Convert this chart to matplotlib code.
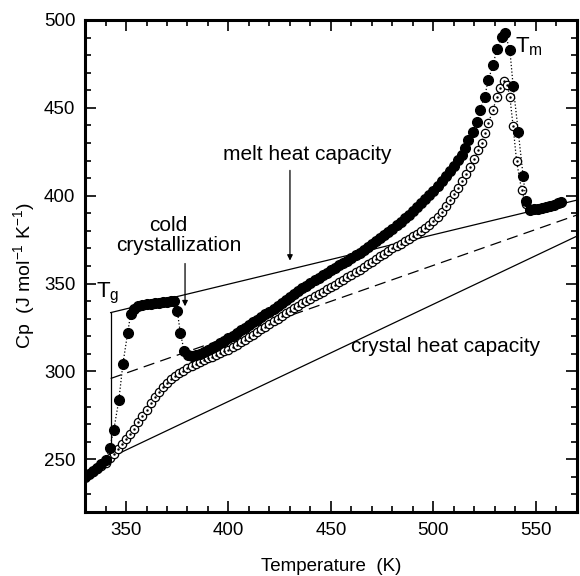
import matplotlib
matplotlib.use("Agg")
import matplotlib.pyplot as plt
from matplotlib.ticker import MultipleLocator

plt.rcParams['font.family'] = ['Liberation Sans', 'DejaVu Sans']
plt.rcParams['mathtext.fontset'] = 'custom'
plt.rcParams['mathtext.rm'] = 'Liberation Sans'
plt.rcParams['mathtext.it'] = 'Liberation Sans'

# first heating (filled circles, with cold crystallization)
T_filled = [330, 332, 334, 336, 338, 340, 342, 344, 346.5, 348.5,
            350.8, 352.3, 354, 356, 358, 360, 362, 364, 366, 368,
            370, 372, 373.6, 375, 376.5, 378.4, 380.2, 382, 384, 386,
            388, 390, 392, 394, 396, 398, 400, 402, 404, 406,
            408, 410, 412, 414, 416, 418, 420, 422, 424, 426,
            428, 430, 432, 434, 436, 438, 440, 442, 444, 446,
            448, 450, 452, 454, 456, 458, 460, 462, 464, 466,
            468, 470, 472, 474, 476, 478, 480, 482, 484, 486,
            488, 490, 492, 494, 496, 498, 500, 502, 504, 506,
            508, 510, 512, 513.8, 515.4, 517, 519.4, 521.1, 522.7, 525.1,
            526.7, 529.2, 530.8, 533.3, 534.9, 537.3, 538.9, 541.4, 543.8, 545.2,
            547, 549, 551, 553, 555, 557, 559, 561, 562.5]
Cp_filled = [240, 241.8, 243.5, 245.3, 247.3, 249.8, 256.5, 266.5, 283.7, 304.4,
             322, 332.8, 335.5, 337, 337.8, 338.2, 338.5, 338.8, 339.1, 339.4,
             339.7, 340, 340, 334.5, 322, 311.5, 309.5, 308.8, 309.2, 310,
             311, 312.2, 313.4, 314.7, 316.1, 317.5, 319, 320.4, 321.9, 323.4,
             325, 326.5, 328, 329.5, 331, 332.5, 334, 335.7, 337.4, 339.1,
             340.8, 342.5, 344.1, 345.7, 347.3, 348.9, 350.5, 351.9, 353.3, 354.7,
             356.1, 357.5, 358.9, 360.3, 361.7, 363.1, 364.5, 366, 367.5, 369,
             370.6, 372.3, 374, 375.8, 377.6, 379.4, 381.3, 383.2, 385.1, 387.1,
             389.1, 391.2, 393.4, 395.7, 398, 400.4, 402.9, 405.5, 408.2, 411,
             414, 417.2, 420.5, 423.3, 427.1, 431.8, 436.5, 442.2, 448.9, 456.4,
             465.9, 474.4, 483.3, 490.5, 492.4, 483, 462.5, 436.5, 411, 397,
             392, 392.3, 392.7, 393.2, 393.8, 394.4, 395, 395.7, 396.3]

# second heating (open circles)
T_open = [330, 332, 334, 336, 338, 340, 342, 344, 346, 348,
          350, 352, 354, 356, 358, 360, 362, 364, 366, 368,
          370, 372, 374, 376, 378, 380, 382, 384, 386, 388,
          390, 392, 394, 396, 398, 400, 402, 404, 406, 408,
          410, 412, 414, 416, 418, 420, 422, 424, 426, 428,
          430, 432, 434, 436, 438, 440, 442, 444, 446, 448,
          450, 452, 454, 456, 458, 460, 462, 464, 466, 468,
          470, 472, 474, 476, 478, 480, 482, 484, 486, 488,
          490, 492, 494, 496, 498, 500, 502, 504, 506, 508,
          510, 512, 514, 516, 518, 520, 522, 523.5, 525.1, 526.7,
          529.2, 530.8, 532.5, 534.3, 536, 537.3, 538.9, 540.6, 543, 545,
          547, 550, 553, 556, 559, 562]
Cp_open = [240.5, 241.5, 243, 244.6, 246.3, 248.2, 250.5, 253.3, 256, 258.5,
           261.3, 264.2, 267.5, 271, 274.5, 278.2, 281.8, 285.2, 288.3, 291.2,
           293.6, 295.7, 297.5, 299.1, 300.5, 301.9, 303.1, 304.2, 305.3, 306.4,
           307.4, 308.4, 309.4, 310.4, 311.4, 312.5, 313.9, 315.3, 316.7, 318.1,
           319.5, 321, 322.5, 324, 325.5, 327, 328.5, 330, 331.5, 333,
           334.5, 335.9, 337.3, 338.7, 340.1, 341.5, 342.8, 344.1, 345.4, 346.7,
           348, 349.4, 350.8, 352.2, 353.6, 355, 356.5, 358, 359.4, 360.9,
           362.4, 364, 365.5, 367, 368.5, 370, 371.4, 372.8, 374.2, 375.6,
           377, 378.4, 379.9, 381.5, 383.2, 385.5, 388, 390.8, 394, 397.5,
           401, 404.6, 408.4, 412.4, 416.6, 421, 426, 430, 435.6, 441.3,
           448.9, 456.4, 461.5, 465, 463, 456.4, 439.4, 419.5, 403.4, 395.5,
           392.5, 392.5, 393.2, 394, 395, 396]

# reference lines (endpoints)
T_glass = [342.5, 342.5]
Cp_glass = [251.5, 333.5]
T_melt = [342.5, 570]
Cp_melt = [333.5, 397.5]
T_mix = [342.5, 570]
Cp_mix = [296.0, 389.0]
T_cryst = [335, 570]
Cp_cryst = [247.0, 377.0]

fig = plt.figure(figsize=(5.8, 5.76), dpi=100)
ax = fig.add_axes([0.1466, 0.111, 0.848, 0.8543])

ax.plot(T_glass, Cp_glass, color='black', lw=0.9, zorder=2)
ax.plot(T_melt, Cp_melt, color='black', lw=0.9, zorder=2)
ax.plot(T_mix, Cp_mix, color='black', lw=0.9, ls=(0, (9, 5)), zorder=2)
ax.plot(T_cryst, Cp_cryst, color='black', lw=0.9, zorder=2)

ax.plot(T_open, Cp_open, ls=':', color='black', lw=0.9, marker='o', ms=6,
        mfc='white', mec='black', mew=0.9, zorder=3)
ax.plot(T_open, Cp_open, ls='none', marker='.', ms=1.5, color='black', zorder=3.5)
ax.plot(T_filled, Cp_filled, ls=':', color='black', lw=0.9, marker='o', ms=7,
        mfc='black', mec='black', zorder=4)

ax.set_xlim(330, 570)
ax.set_ylim(220, 500)
ax.xaxis.set_major_locator(MultipleLocator(50))
ax.xaxis.set_minor_locator(MultipleLocator(10))
ax.yaxis.set_major_locator(MultipleLocator(50))
ax.yaxis.set_minor_locator(MultipleLocator(10))
ax.tick_params(which='both', direction='in', top=True, right=True, labelsize=13.5, width=1.2)
ax.tick_params(which='major', length=8, pad=7)
ax.tick_params(which='minor', length=4)
for s in ax.spines.values():
    s.set_linewidth(2.2)

ax.set_xlabel('Temperature  (K)', fontsize=13.5, labelpad=13.5)
ax.set_ylabel(r'Cp  (J mol$^{\mathrm{-1}}$ K$^{\mathrm{-1}}$)', fontsize=14)
ax.yaxis.set_label_coords(-0.098, 0.481)

ax.text(335.4, 342, r'T$_\mathrm{g}$', fontsize=16, ha='left', va='baseline', zorder=6)
ax.text(539.8, 481.8, r'T$_\mathrm{m}$', fontsize=16, ha='left', va='baseline', zorder=6)
ax.text(370.7, 379.8, 'cold', fontsize=15, ha='center', va='baseline')
ax.text(375.9, 368.6, 'crystallization', fontsize=15, ha='center', va='baseline')
ax.annotate('', xy=(378.8, 335.5), xytext=(378.8, 363),
            arrowprops=dict(arrowstyle='-|>', color='black', lw=0.9, mutation_scale=8))
ax.text(438.3, 423.3, 'melt heat capacity', fontsize=15, ha='center', va='center')
ax.annotate('', xy=(430, 361.5), xytext=(430, 416),
            arrowprops=dict(arrowstyle='-|>', color='black', lw=0.9, mutation_scale=8))
ax.text(506, 314.2, 'crystal heat capacity', fontsize=15, ha='center', va='center')

fig.savefig('out.png', dpi=100)
